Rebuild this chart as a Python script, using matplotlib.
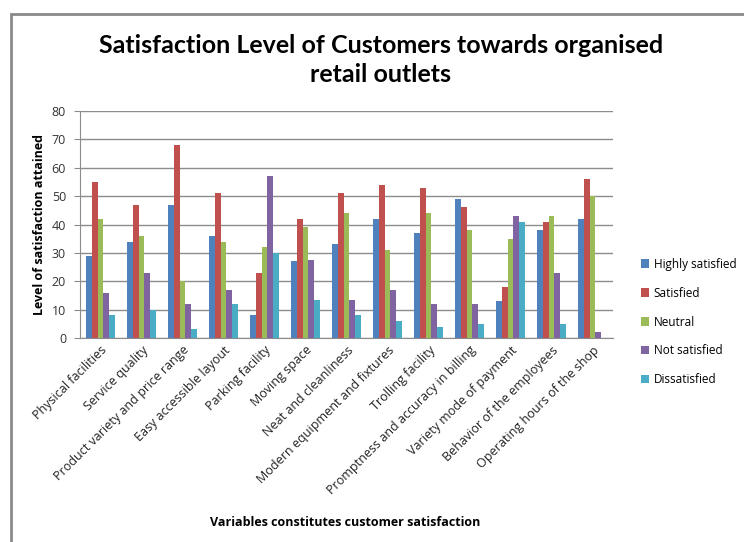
import numpy as np
import matplotlib
matplotlib.use('Agg')
import matplotlib.pyplot as plt
from matplotlib.patches import Rectangle

# ───────────────────────── DATA ─────────────────────────
categories = [
    'Physical facilities', 'Service quality', 'Product variety and price range',
    'Easy accessible layout', 'Parking facility', 'Moving space',
    'Neat and cleanliness', 'Modern equipment and fixtures', 'Trolling facility',
    'Promptness and accuracy in billing', 'Variety mode of payment',
    'Behavior of the employees', 'Operating hours of the shop',
]
series_names = ['Highly satisfied', 'Satisfied', 'Neutral', 'Not satisfied', 'Dissatisfied']
highly_satisfied = [29, 34, 47, 36, 8, 27, 33, 42, 37, 49, 13, 38, 42]
satisfied        = [55, 47, 68, 51, 23, 42, 51, 54, 53, 46, 18, 41, 56]
neutral          = [42, 36, 20, 34, 32, 39, 44, 31, 44, 38, 35, 43, 50]
not_satisfied    = [16, 23, 12, 17, 57, 27.5, 13.5, 17, 12, 12, 43, 23, 2]
dissatisfied     = [8, 10, 3, 12, 30, 13.5, 8, 6, 4, 5, 41, 5, 0]
y_ticks = [0, 10, 20, 30, 40, 50, 60, 70, 80]

colors = ['#4F81BD', '#C0504D', '#9BBB59', '#8064A2', '#4BACC6']

# ───────────────────────── PLOT ─────────────────────────
fig = plt.figure(figsize=(7.44, 5.42), dpi=100)
fig.patch.set_facecolor('white')
ax = fig.add_axes([80 / 744, 1 - 338 / 542, 533 / 744, 227 / 542])

x = np.arange(len(categories))
bar_w = 0.146
all_series = [highly_satisfied, satisfied, neutral, not_satisfied, dissatisfied]
for i, (name, vals, c) in enumerate(zip(series_names, all_series, colors)):
    offset = (i - 2) * bar_w
    ax.bar(x + offset, vals, width=bar_w, color=c, label=name, zorder=3)

ax.set_xlim(-0.5, len(categories) - 0.5)
ax.set_ylim(0, 80)
ax.set_yticks(y_ticks)
ax.set_yticklabels([str(t) for t in y_ticks], fontsize=9, color='#333333', family='Open Sans')
ax.yaxis.grid(True, color='#8c8c8c', linewidth=1.0, zorder=0)
ax.tick_params(axis='y', length=4, color='#8c8c8c', pad=6)

ax.set_xticks(x)
ax.set_xticklabels(categories, rotation=45, ha='right', rotation_mode='anchor',
                   fontsize=9, color='#222222', family='Open Sans')
ax.tick_params(axis='x', length=0, pad=4)

for s in ['top', 'right']:
    ax.spines[s].set_visible(False)
ax.spines['left'].set_color('#8c8c8c')
ax.spines['bottom'].set_color('#8c8c8c')

ax.set_ylabel('Level of satisfaction attained', fontsize=9, fontweight='bold',
              family='Open Sans', labelpad=4)
fig.text(345 / 744, 1 - 522 / 542, 'Variables constitutes customer satisfaction',
         ha='center', va='center', fontsize=9, fontweight='bold', family='Open Sans')

fig.text(381 / 744, 1 - 60 / 542,
         'Satisfaction Level of Customers towards organised\nretail outlets',
         ha='center', va='center', fontsize=18, fontweight='bold', family='Lato',
         linespacing=1.3)

handles, labels = ax.get_legend_handles_labels()
fig.legend(handles, labels, loc='center left', bbox_to_anchor=(630 / 744, 1 - 322 / 542),
           frameon=False, handlelength=0.7, handleheight=0.7,
           handletextpad=0.4, labelspacing=1.35, prop={'family': 'Open Sans', 'size': 8.5})

# outer chart border (only top and left edges fall inside the image)
fig.add_artist(Rectangle((10.5 / 744, -0.1), 1.2, 1 - 14 / 542 + 0.1,
                         transform=fig.transFigure, fill=False,
                         edgecolor='#8a8a8a', linewidth=2))

fig.savefig('out.png', dpi=100)
plt.close(fig)
